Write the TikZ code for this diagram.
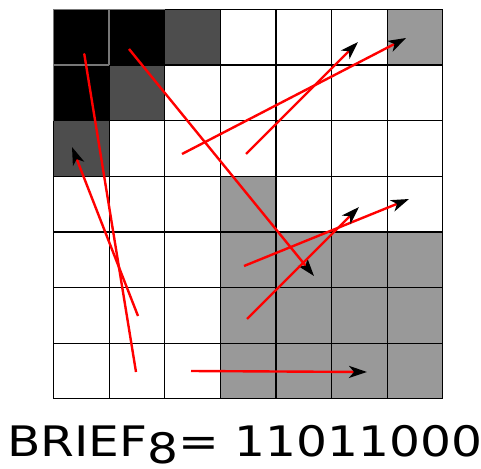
\documentclass[tikz,border=0pt]{standalone}
\usepackage{fontspec}
\setmainfont{DejaVu Sans}
\usetikzlibrary{arrows.meta}

\definecolor{darkcell}{HTML}{4D4D4D}
\definecolor{midcell}{HTML}{999999}
\definecolor{seam}{HTML}{777777}

\tikzset{
  pairtest/.style={red, line width=2.4pt, -{Stealth[black, length=18pt, width=12pt, inset=5pt]}},
  gridline/.style={black, line width=1.2pt},
}

\begin{document}
\begin{tikzpicture}[x=1pt, y=-1pt]
    \useasboundingbox (0,0) rectangle (481,468);
    % shaded cells: row/col/colour
    \foreach \r/\c/\col in {0/0/black, 0/1/black, 0/2/darkcell, 0/6/midcell,
                            1/0/black, 1/1/darkcell, 2/0/darkcell, 3/3/midcell,
                            4/3/midcell, 4/4/midcell, 4/5/midcell, 4/6/midcell,
                            5/3/midcell, 5/4/midcell, 5/5/midcell, 5/6/midcell,
                            6/3/midcell, 6/4/midcell, 6/5/midcell, 6/6/midcell}
      \fill[\col] (53.5+\c*55.6, 9.5+\r*55.6) rectangle ++(55.6,55.6);
    % grid
    \foreach \i in {0,...,7} {
      \draw[gridline] (53.5+\i*55.6, 9.5) -- (53.5+\i*55.6, 398.7);
      \draw[gridline] (53.5, 9.5+\i*55.6) -- (442.7, 9.5+\i*55.6);
    }
    % seams inside the black block
    \draw[seam, line width=1.4pt] (109.1,9.5) -- (109.1,65.1) (53.5,65.1) -- (109.1,65.1);
    \draw[seam, line width=1.4pt] (53.5,9.5) -- (164.7,9.5) (53.5,9.5) -- (53.5,120.7);
    % test pairs
    \coordinate (p1) at (136,372); \coordinate (q1) at (82,40);
    \coordinate (p2) at (129,49);  \coordinate (q2) at (314,276);
    \coordinate (p3) at (138,316); \coordinate (q3) at (72,147);
    \coordinate (p4) at (182,154); \coordinate (q4) at (406,38);
    \coordinate (p5) at (246,154); \coordinate (q5) at (358,42);
    \coordinate (p6) at (244,266); \coordinate (q6) at (409,199);
    \coordinate (p7) at (247,319); \coordinate (q7) at (359,207);
    \coordinate (p8) at (191,371); \coordinate (q8) at (367,372);
    \foreach \k in {1,...,8}
      \draw[pairtest] (p\k) -- (q\k);
    % descriptor
    \node[anchor=base west, inner sep=0pt, xscale=1.16, font=\fontsize{42}{50}\selectfont]
      (brief) at (7,456) {BRIEF\raisebox{-7pt}{8}= 11011000};
\end{tikzpicture}
\end{document}
